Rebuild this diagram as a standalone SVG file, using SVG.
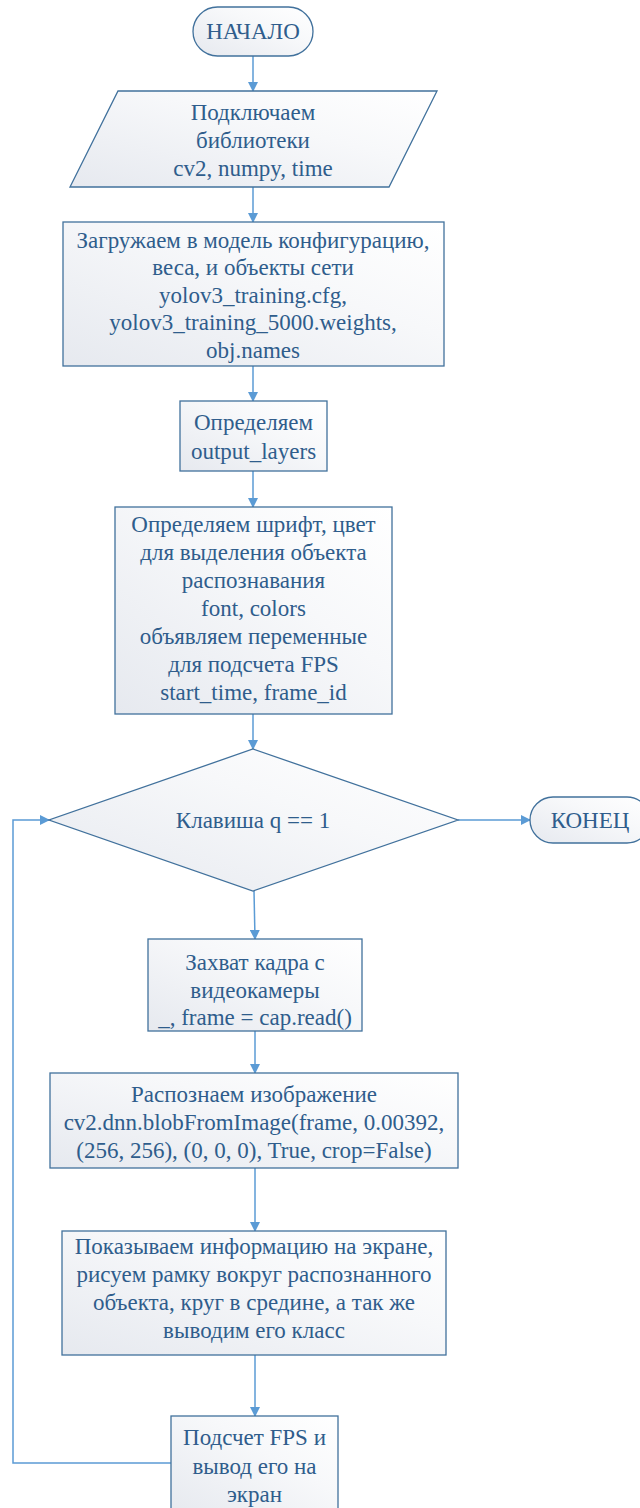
<svg xmlns="http://www.w3.org/2000/svg" width="640" height="1508" viewBox="0 0 640 1508">
<defs>
<linearGradient id="g" x1="0" y1="1" x2="1" y2="0">
<stop offset="0" stop-color="#e6e9ef"/>
<stop offset="0.6" stop-color="#f7f8fa"/>
<stop offset="1" stop-color="#ffffff"/>
</linearGradient>
<marker id="ah" markerWidth="10" markerHeight="10" refX="9" refY="5" orient="auto" markerUnits="userSpaceOnUse">
<path d="M0,0 L10,5 L0,10 Z" fill="#5b9bd5"/>
</marker>
<style>
.s{fill:url(#g);stroke:#41719c;stroke-width:1.3}
.t{font-family:"Liberation Serif","Times New Roman",serif;font-size:23px;fill:#2f5d8c;text-anchor:middle;dominant-baseline:central}
.c{fill:none;stroke:#5b9bd5;stroke-width:1.5;marker-end:url(#ah)}
</style>
</defs>
<g id="connectors">
<path class="c" d="M253,56 V91"/>
<path class="c" d="M253,187 V222"/>
<path class="c" d="M253,366 V401"/>
<path class="c" d="M253,471 V507"/>
<path class="c" d="M253,714 V749"/>
<path class="c" d="M458,820 H530"/>
<path class="c" d="M254,891 L255,939"/>
<path class="c" d="M255,1031 V1073"/>
<path class="c" d="M255,1168 V1231"/>
<path class="c" d="M255,1355 V1416"/>
<path class="c" d="M171,1463 H13 V820 H49"/>
</g>
<g id="start">
<rect class="s" x="193" y="7" width="120" height="49" rx="24.5"/>
<text class="t" x="253" y="31">НАЧАЛО</text>
</g>
<g id="libs">
<polygon class="s" points="118,91 437,91 389,187 70,187"/>
<text class="t" x="253" y="112">Подключаем</text>
<text class="t" x="253" y="140">библиотеки</text>
<text class="t" x="253" y="168">cv2, numpy, time</text>
</g>
<g id="load">
<rect class="s" x="63" y="222" width="381" height="144"/>
<text class="t" x="253" y="240">Загружаем в модель конфигурацию,</text>
<text class="t" x="253" y="267.5">веса, и объекты сети</text>
<text class="t" x="253" y="295">yolov3_training.cfg,</text>
<text class="t" x="253" y="322.5">yolov3_training_5000.weights,</text>
<text class="t" x="253" y="350">obj.names</text>
</g>
<g id="layers">
<rect class="s" x="180" y="401" width="147" height="70"/>
<text class="t" x="253.5" y="422">Определяем</text>
<text class="t" x="253.5" y="451">output_layers</text>
</g>
<g id="font">
<rect class="s" x="115" y="507" width="277" height="207"/>
<text class="t" x="253.5" y="524">Определяем шрифт, цвет</text>
<text class="t" x="253.5" y="552">для выделения объекта</text>
<text class="t" x="253.5" y="580">распознавания</text>
<text class="t" x="253.5" y="608">font, colors</text>
<text class="t" x="253.5" y="636">объявляем переменные</text>
<text class="t" x="253.5" y="664">для подсчета FPS</text>
<text class="t" x="253.5" y="692">start_time, frame_id</text>
</g>
<g id="decision">
<polygon class="s" points="253,749 458,820 253,891 49,820"/>
<text class="t" x="253" y="820">Клавиша q == 1</text>
</g>
<g id="end">
<rect class="s" x="530" y="797" width="120" height="46" rx="23"/>
<text class="t" x="590" y="820">КОНЕЦ</text>
</g>
<g id="capture">
<rect class="s" x="148" y="939" width="214" height="92"/>
<text class="t" x="255" y="962">Захват кадра с</text>
<text class="t" x="255" y="990">видеокамеры</text>
<text class="t" x="255" y="1017">_, frame = cap.read()</text>
</g>
<g id="recognize">
<rect class="s" x="50" y="1073" width="408" height="95"/>
<text class="t" x="254" y="1094">Распознаем изображение</text>
<text class="t" x="254" y="1122">cv2.dnn.blobFromImage(frame, 0.00392,</text>
<text class="t" x="254" y="1150">(256, 256), (0, 0, 0), True, crop=False)</text>
</g>
<g id="show">
<rect class="s" x="62" y="1231" width="384" height="124"/>
<text class="t" x="254" y="1246">Показываем информацию на экране,</text>
<text class="t" x="254" y="1274">рисуем рамку вокруг распознанного</text>
<text class="t" x="254" y="1302">объекта, круг в средине, а так же</text>
<text class="t" x="254" y="1330">выводим его класс</text>
</g>
<g id="fps">
<rect class="s" x="171" y="1416" width="167" height="100"/>
<text class="t" x="254.5" y="1437">Подсчет FPS и</text>
<text class="t" x="254.5" y="1466">вывод его на</text>
<text class="t" x="254.5" y="1494">экран</text>
</g>
</svg>
